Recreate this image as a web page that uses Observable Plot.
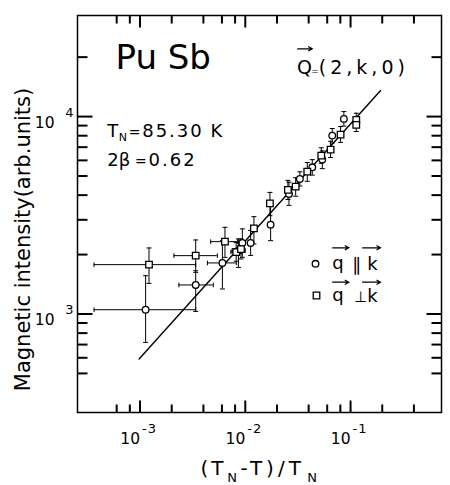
<!DOCTYPE html>
<html><head><meta charset="utf-8">
<script src="https://cdn.jsdelivr.net/npm/d3@7"></script>
<script src="https://cdn.jsdelivr.net/npm/@observablehq/plot@0.6"></script>
<style>html,body{margin:0;padding:0;background:#fff;} svg{display:block;}</style>
</head><body><div id="chart"></div>
<script>
// ---- data ----
// q parallel k (circles)
const circX   = [0.00113, 0.00338, 0.00606, 0.00860, 0.00938, 0.01124, 0.0174, 0.0260, 0.0330, 0.0433, 0.0539, 0.0670, 0.0864];
const circY   = [1051, 1403, 1814, 2094, 2290, 2290, 2835, 4057, 4833, 5534, 6056, 8012, 9734];
const circYlo = [718, 1031, 1339, 1722, 1936, 1980, 2352, 3550, 4450, 5050, 5450, 7350, 8950];
const circYhi = [1563, 1656, 2350, 2400, 2698, 2650, 3610, 4650, 5250, 6050, 6700, 8700, 10600];
const circXlo = [3.66e-4, 2.34e-3, 4.37e-3, 7.5e-3, null, null, null, null, null, null, null, null, null];
const circXhi = [3.38e-3, 4.97e-3, 8.22e-3, 1.0e-2, null, null, null, null, null, null, null, null, null];
// q perpendicular k (squares)
const sqX   = [0.001217, 0.00338, 0.00641, 0.0082, 0.0091, 0.01208, 0.01714, 0.0254, 0.0301, 0.0388, 0.0527, 0.0646, 0.0804, 0.1133, 0.1133];
const sqY   = [1778, 1975, 2325, 2060, 2130, 2716, 3636, 4252, 4418, 5262, 6343, 6803, 8106, 9623, 9078];
const sqYlo = [1429, 1625, 1936, 1850, 1900, 2265, 3147, 3800, 3950, 4700, 5800, 6200, 7400, 8900, 8400];
const sqYhi = [2160, 2371, 2748, 2300, 2400, 3112, 4130, 4750, 4900, 5850, 6950, 7500, 8900, 10400, 9800];
const sqXlo = [3.66e-4, 2.1e-3, 4.69e-3, 7.3e-3, null, null, null, null, null, null, null, null, null, null, null];
const sqXhi = [3.38e-3, 5.43e-3, 8.41e-3, 9.3e-3, null, null, null, null, null, null, null, null, null, null, null];
// fitted power law line (end points)
const fitX = [9.8e-4, 0.193];
const fitY = [591, 13550];
// ticks
const xMajor = [1e-3, 1e-2, 1e-1];
const xMajorExp = ["-3", "-2", "-1"];
const xMinor = [6e-4, 8e-4, 2e-3, 4e-3, 6e-3, 8e-3, 2e-2, 4e-2, 6e-2, 8e-2, 2e-1, 4e-1];
const yMajor = [1e3, 1e4];
const yMajorExp = ["3", "4"];
const yMinor = [5e2, 6e2, 7e2, 8e2, 9e2, 2e3, 3e3, 4e3, 5e3, 6e3, 7e3, 8e3, 9e3, 2e4];

// ---- layout ----
const ML = 77, MT = 15, W = 450, H = 485, MR = 9, MB = 73;
const FW = W - ML - MR, FH = H - MT - MB; // frame size in px
const xLog = [-3.594, -0.136], yLog = [2.501, 4.512];
const pxPerX = FW / (xLog[1] - xLog[0]), pxPerY = FH / (yLog[1] - yLog[0]);
const ink = "#000";

// ---- build tables ----
const circles = circX.map((x, i) => ({x, y: circY[i], ylo: circYlo[i], yhi: circYhi[i], xlo: circXlo[i], xhi: circXhi[i]}));
const squares = sqX.map((x, i) => ({x, y: sqY[i], ylo: sqYlo[i], yhi: sqYhi[i], xlo: sqXlo[i], xhi: sqXhi[i]}));
const allPts = circles.concat(squares);
const withX = allPts.filter(d => d.xlo != null);
const fit = fitX.map((x, i) => ({x, y: fitY[i]}));

// inward tick segments expressed through the scales (length given in px)
const xTickSeg = (vals, len, side) => vals.map(v => side === "bottom"
  ? {x: v, a: 10 ** yLog[0], b: 10 ** (yLog[0] + len / pxPerY)}
  : {x: v, a: 10 ** yLog[1], b: 10 ** (yLog[1] - len / pxPerY)});
const yTickSeg = (vals, len, side) => vals.map(v => side === "left"
  ? {y: v, a: 10 ** xLog[0], b: 10 ** (xLog[0] + len / pxPerX)}
  : {y: v, a: 10 ** xLog[1], b: 10 ** (xLog[1] - len / pxPerX)});
const tickSegs = [
  ...xTickSeg(xMajor, 12, "bottom"), ...xTickSeg(xMinor, 8, "bottom"),
  ...xTickSeg(xMajor, 12, "top"), ...xTickSeg(xMinor, 8, "top")
].map(d => ({x1: d.x, x2: d.x, y1: d.a, y2: d.b}))
 .concat([
  ...yTickSeg(yMajor, 15, "left"), ...yTickSeg(yMinor, 10, "left"),
  ...yTickSeg(yMajor, 15, "right"), ...yTickSeg(yMinor, 10, "right")
 ].map(d => ({x1: d.a, x2: d.b, y1: d.y, y2: d.y})));

// ---- custom symbols ----
const rad = s => Math.sqrt(s / Math.PI);
const hcap = {draw(c, s) { const r = rad(s); c.moveTo(-r, 0); c.lineTo(r, 0); }};
const vcap = {draw(c, s) { const r = rad(s); c.moveTo(0, -r); c.lineTo(0, r); }};
const arrowSym = {draw(c, s) { const r = rad(s); c.moveTo(-r, 0); c.lineTo(r, 0); c.moveTo(r - 4, -2.3); c.lineTo(r, 0); c.lineTo(r - 4, 2.3); }};

// annotation text at absolute page coordinates (baseline-left)
function ann(txt, X, Y, size, extra = {}) {
  return Plot.text([txt], {
    frameAnchor: "top-left", dx: X - ML, dy: Y - MT, text: d => d,
    textAnchor: "start", lineAnchor: "bottom", fontSize: size, fill: ink, ...extra
  });
}
function mark(symbol, X, Y, r, extra = {}) {
  return Plot.dot([0], {frameAnchor: "top-left", dx: X - ML, dy: Y - MT, symbol, r, stroke: ink, fill: "none", strokeWidth: 1.2, ...extra});
}

const chart = Plot.plot({
  width: W, height: H,
  marginLeft: ML, marginRight: MR, marginTop: MT, marginBottom: MB,
  style: {fontFamily: "DejaVu Sans", background: "white", color: ink},
  x: {type: "log", domain: [10 ** xLog[0], 10 ** xLog[1]], axis: null},
  y: {type: "log", domain: [10 ** yLog[0], 10 ** yLog[1]], axis: null},
  marks: [
    Plot.frame({stroke: ink, strokeWidth: 1.5}),
    // tick labels
    Plot.text(xMajor, {x: d => d, frameAnchor: "bottom", text: () => "10", textAnchor: "end", lineAnchor: "bottom", dx: 0, dy: 31.5, fontSize: 15.5, fill: ink}),
    Plot.text(xMajor, {x: d => d, frameAnchor: "bottom", text: (d, i) => xMajorExp[i], textAnchor: "start", lineAnchor: "bottom", dx: 2, dy: 20.5, fontSize: 13, fill: ink}),
    Plot.text(yMajor, {y: d => d, frameAnchor: "left", text: () => "10", textAnchor: "end", lineAnchor: "bottom", dx: -23, dy: 11.5, fontSize: 15.5, fill: ink}),
    Plot.text(yMajor, {y: d => d, frameAnchor: "left", text: (d, i) => yMajorExp[i], textAnchor: "end", lineAnchor: "bottom", dx: -4, dy: 0, fontSize: 13, fill: ink}),
    // fit line
    Plot.line(fit, {x: "x", y: "y", stroke: ink, strokeWidth: 1.4}),
    // error bars
    Plot.ruleX(allPts, {x: "x", y1: "ylo", y2: "yhi", stroke: ink, strokeWidth: 1}),
    Plot.ruleY(withX, {y: "y", x1: "xlo", x2: "xhi", stroke: ink, strokeWidth: 1}),
    Plot.dot(allPts, {x: "x", y: "ylo", symbol: hcap, r: 2.5, stroke: ink, strokeWidth: 1}),
    Plot.dot(allPts, {x: "x", y: "yhi", symbol: hcap, r: 2.5, stroke: ink, strokeWidth: 1}),
    Plot.dot(withX, {x: "xlo", y: "y", symbol: vcap, r: 2.3, stroke: ink, strokeWidth: 1}),
    Plot.dot(withX, {x: "xhi", y: "y", symbol: vcap, r: 2.3, stroke: ink, strokeWidth: 1}),
    // points
    Plot.dot(circles, {x: "x", y: "y", r: 3.3, fill: "white", stroke: ink, strokeWidth: 1.3}),
    Plot.dot(squares, {x: "x", y: "y", symbol: "square", r: 3.7, fill: "white", stroke: ink, strokeWidth: 1.3}),
    // inward ticks on all four sides
    Plot.link(tickSegs, {x1: "x1", x2: "x2", y1: "y1", y2: "y2", stroke: ink, strokeWidth: 2}),
    // axis titles
    Plot.text(["Magnetic intensity(arb.units)"], {frameAnchor: "top-left", dx: 23 - ML, dy: 239 - MT, rotate: -90, fontSize: 21, textAnchor: "middle", lineAnchor: "middle", fill: ink, text: d => d}),
    ann("(T", 200, 474, 20),
    ann("N", 226.7, 481.7, 13),
    ann("-T)/T", 240, 474, 20),
    ann("N", 306.7, 481.7, 13),
    // annotations
    ann("Pu Sb", 115, 68.3, 34),
    ann("Q", 296.5, 73.3, 19),
    ann("=", 310.8, 73, 9),
    ann("(2,k,0)", 318.3, 73.3, 19),
    mark(arrowSym, 304.2, 48.3, 7.5),
    ann("T", 106.7, 136.7, 18),
    ann("N", 118.3, 140.7, 11),
    ann("=", 128.3, 136.7, 14),
    ann("85.30", 141.7, 136.7, 18),
    ann("K", 210, 136.7, 18),
    ann("2\u03b2", 106.7, 165, 18),
    ann("=", 134.5, 165, 14),
    ann("0.62", 148, 165, 18),
    // legend
    mark("circle", 315, 263.3, 3.3, {fill: "white", strokeWidth: 1.3}),
    ann("q", 331.7, 268, 18),
    ann("\u2225", 351.5, 270, 18),
    ann("k", 366.7, 269, 18),
    mark(arrowSym, 340, 247.3, 8.3),
    mark(arrowSym, 370.8, 247.3, 9.2),
    mark("square", 316, 295, 3.7, {fill: "white", strokeWidth: 1.3}),
    ann("q", 331.7, 300, 18),
    ann("\u22a5", 353.5, 301.5, 15),
    ann("k", 366.7, 301, 18),
    mark(arrowSym, 340, 281.7, 8.3),
    mark(arrowSym, 370.8, 281.7, 9.2)
  ]
});
// wider letter spacing of the original lettering
const spacing = {"85.30": 2, "0.62": 2, "(2,k,0)": 4, "(T": 3, "-T)/T": 4, "-3": 1, "-2": 1, "-1": 1};
chart.querySelectorAll("text").forEach(t => {
  const s = spacing[t.textContent];
  if (s) t.setAttribute("letter-spacing", s);
});
document.getElementById("chart").appendChild(chart);
</script></body></html>
